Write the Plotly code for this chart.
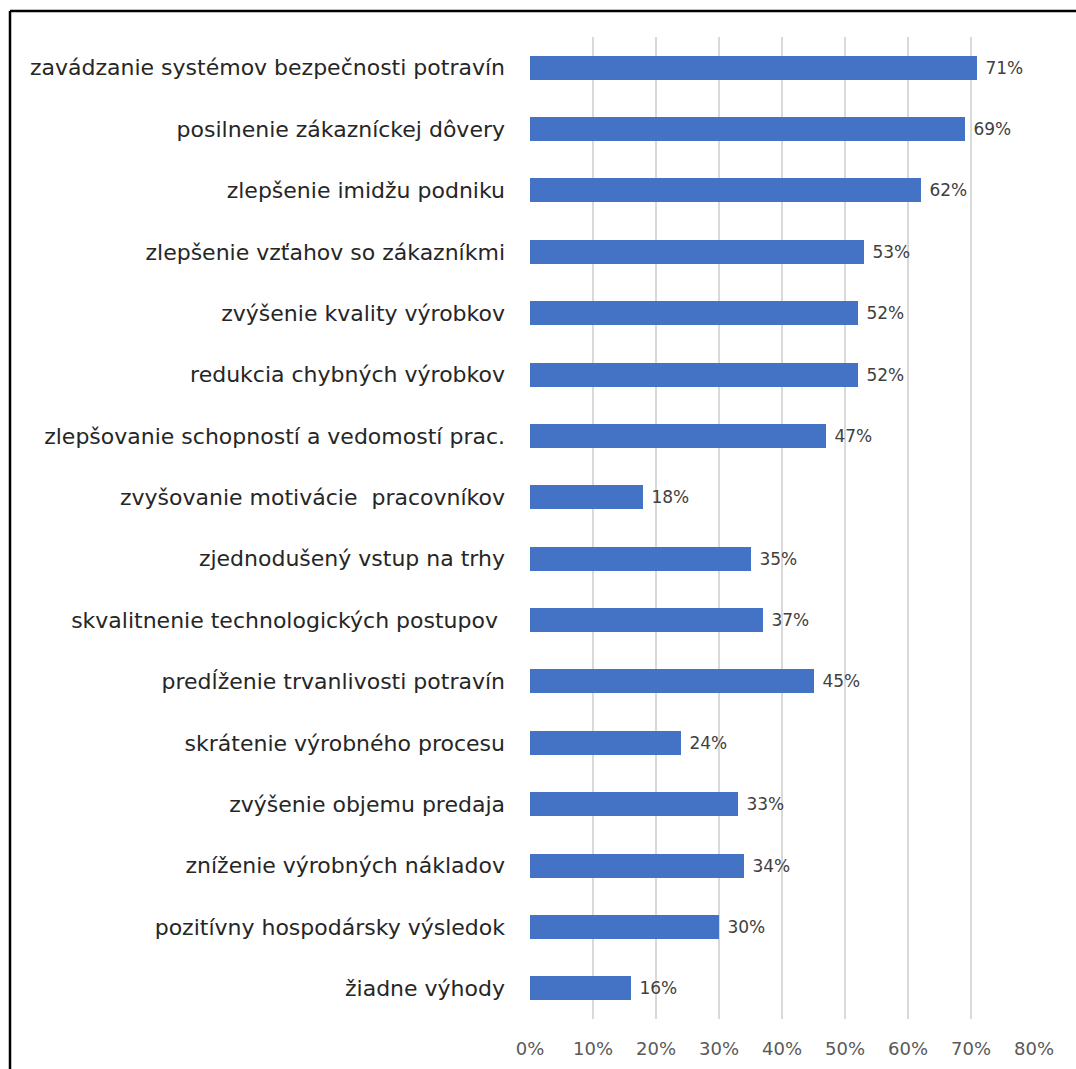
import plotly.graph_objects as go

# Benefits reported by food companies (share of respondents, %)
categories = [
    "zavádzanie systémov bezpečnosti potravín",
    "posilnenie zákazníckej dôvery",
    "zlepšenie imidžu podniku",
    "zlepšenie vzťahov so zákazníkmi",
    "zvýšenie kvality výrobkov",
    "redukcia chybných výrobkov",
    "zlepšovanie schopností a vedomostí prac.",
    "zvyšovanie motivácie  pracovníkov",
    "zjednodušený vstup na trhy",
    "skvalitnenie technologických postupov ",
    "predĺženie trvanlivosti potravín",
    "skrátenie výrobného procesu",
    "zvýšenie objemu predaja",
    "zníženie výrobných nákladov",
    "pozitívny hospodársky výsledok",
    "žiadne výhody",
]
values = [71, 69, 62, 53, 52, 52, 47, 18, 35, 37, 45, 24, 33, 34, 30, 16]
tick_values = [0, 10, 20, 30, 40, 50, 60, 70, 80]
tick_labels = [f"{v}%" for v in tick_values]

W, H = 1076, 1069
ML, MR, MT, MB = 530, 42, 37, 50
pw, ph = W - ML - MR, H - MT - MB

fig = go.Figure()
fig.add_trace(go.Bar(
    y=categories,
    x=values,
    orientation="h",
    width=0.39,
    marker=dict(color="#4472C4", line=dict(width=0)),
    text=[f"\u00a0{v}%" for v in values],
    textposition="outside",
    textfont=dict(family="DejaVu Sans", size=17, color="#404040"),
    cliponaxis=False,
))

# frame lines along left and top edge of the page
bx = (10 - ML) / pw
by = (H - MB - 11) / ph
fig.add_shape(type="line", xref="paper", yref="paper",
              x0=bx, x1=(W - ML) / pw + 0.05, y0=by, y1=by,
              line=dict(color="black", width=2.5))
fig.add_shape(type="line", xref="paper", yref="paper",
              x0=bx, x1=bx, y0=by, y1=-MB / ph - 0.05,
              line=dict(color="black", width=2.5))

fig.update_layout(
    width=W, height=H,
    margin=dict(l=ML, r=MR, t=MT, b=MB, autoexpand=False),
    paper_bgcolor="white",
    plot_bgcolor="white",
    showlegend=False,
    bargap=0,
    uniformtext=dict(mode=False),
    xaxis=dict(
        range=[0, 80],
        tickvals=tick_values,
        ticktext=tick_labels,
        showgrid=True,
        gridcolor="#D9D9D9",
        gridwidth=2,
        zeroline=False,
        showline=False,
        ticks="",
        automargin=False,
        ticklabelstandoff=17,
        tickfont=dict(family="DejaVu Sans", size=18, color="#595959"),
    ),
    yaxis=dict(
        autorange="reversed",
        showgrid=False,
        zeroline=False,
        showline=False,
        ticks="",
        automargin=False,
        ticklabelstandoff=24,
        tickfont=dict(family="DejaVu Sans", size=22, color="#262626"),
    ),
)

fig.write_html("out.html")
